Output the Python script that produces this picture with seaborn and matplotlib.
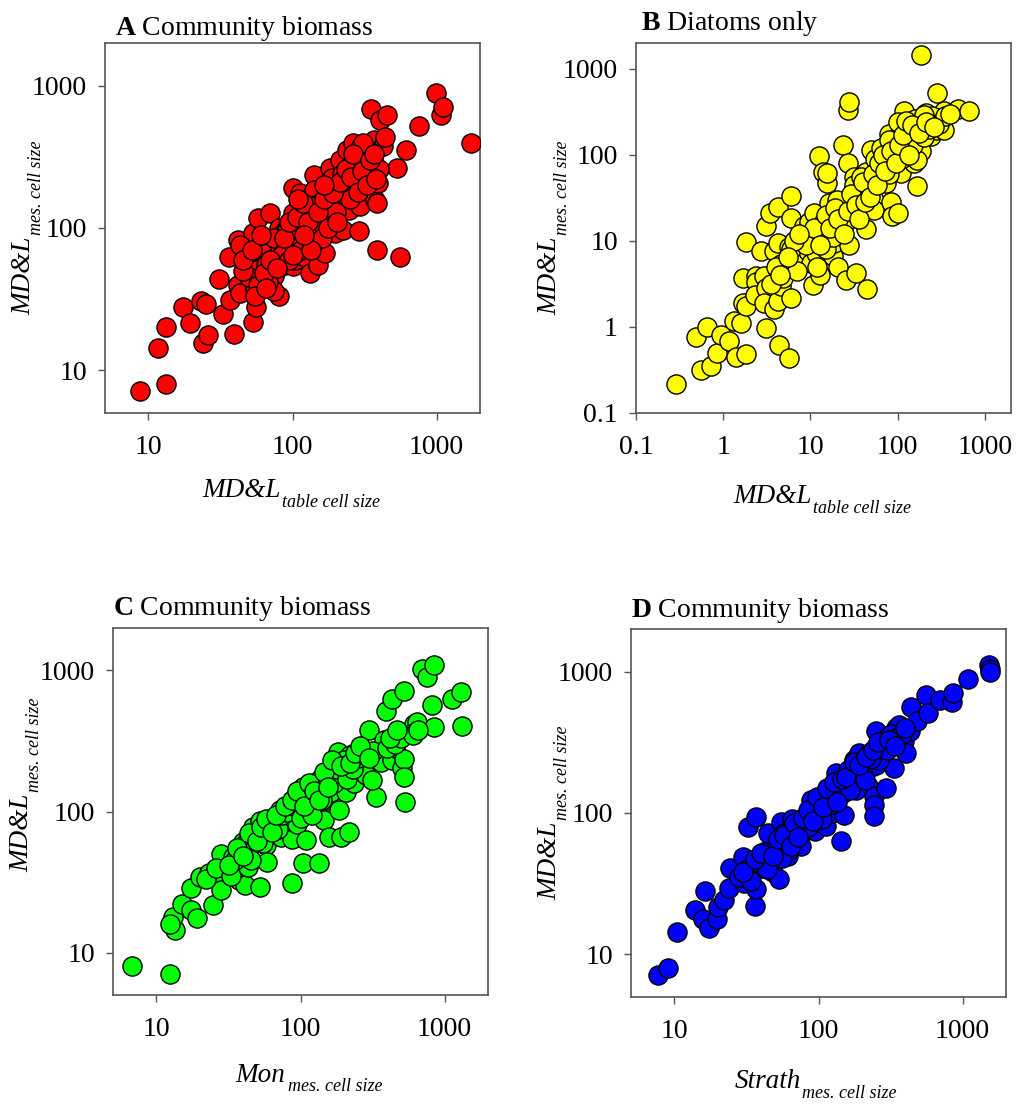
import matplotlib
matplotlib.use('Agg')
import matplotlib.pyplot as plt
import seaborn as sns

sns.set_theme(style='white')
plt.rcParams['font.family'] = ['Liberation Serif', 'DejaVu Serif']
plt.rcParams['mathtext.fontset'] = 'custom'
plt.rcParams['mathtext.rm'] = 'Liberation Serif'
plt.rcParams['mathtext.bf'] = 'Liberation Serif:bold'
plt.rcParams['text.color'] = 'black'
plt.rcParams['axes.labelcolor'] = 'black'

# A: community biomass, MD&L table vs MD&L measured
a_x = [8.7, 13.3, 11.6, 13.3, 17.3, 19.3, 23.3, 25, 24, 26, 31, 33, 36, 37, 39, 42, 42, 43, 48, 53,
       49, 53, 56, 55, 58, 56, 62, 70, 66, 66, 74, 80, 72, 78, 80, 86, 91, 82, 84, 101,
       101, 101, 101, 104, 113, 113, 118, 122, 132, 140, 140, 144, 151, 151, 155, 151, 168, 182, 187, 187,
       187, 192, 203, 198, 214, 225, 225, 238, 245, 245, 252, 265, 265, 270, 288, 295, 300, 329, 350, 366,
       366, 375, 386, 386, 404, 395, 427, 440, 450, 532, 561, 610, 754, 985, 1070, 1110, 1740,
       43, 49, 56, 82, 91, 98, 122, 144, 75,
       60, 65, 75, 90, 110, 120, 130, 140, 160, 170, 180, 200, 210, 220, 230, 260, 280, 300, 320, 340,
       50, 45, 58, 68, 85, 95, 105, 115, 125, 140, 160, 180, 200, 250, 275, 310, 360, 400,
       45, 52, 60, 63, 70, 78, 88, 95, 100, 108, 118, 128, 135, 150, 165, 175, 190, 205, 215, 235,
       255, 265, 285, 305, 330, 345, 370, 380, 55, 65, 110, 165, 120]
a_y = [7.1, 8.0, 14.4, 20, 28, 21.5, 30.5, 29, 15.6, 17.8, 44, 25, 63, 31, 18, 83, 40, 35, 74, 92,
       65, 22, 28, 37, 117, 54, 46, 127, 83, 60, 46, 33, 37, 67, 100, 92, 100, 63, 54, 191,
       127, 74, 54, 60, 176, 115, 83, 63, 48, 234, 186, 146, 121, 92, 100, 55, 67, 263, 223, 186,
       97, 142, 121, 92, 302, 150, 97, 355, 213, 134, 275, 395, 176, 220, 95, 142, 375, 318, 690, 418,
       244, 158, 70, 150, 577, 207, 375, 440, 625, 263, 63, 355, 518, 888, 625, 715, 396,
       76, 63, 51, 60, 97, 70, 76, 142, 36,
       70, 55, 85, 75, 95, 130, 100, 80, 110, 140, 120, 160, 190, 240, 170, 200, 250, 220, 280, 350,
       45, 50, 40, 42, 65, 60, 85, 70, 90, 105, 85, 145, 130, 160, 300, 395, 300, 260,
       60, 70, 90, 48, 60, 52, 85, 110, 65, 120, 150, 110, 70, 130, 160, 100, 175, 110, 210, 260,
       230, 330, 180, 250, 200, 300, 330, 220, 33, 38, 160, 200, 90]

# B: diatoms only
b_x = [0.29, 0.49, 0.56, 0.72, 0.66, 0.86, 0.94, 1.17, 1.4, 1.82, 1.34, 1.6, 1.67, 1.82, 1.67, 1.82, 2.37, 2.4, 2.3, 2.7,
       2.95, 3.1, 2.95, 3.1, 3.1, 3.4, 4.2, 3.85, 3.85, 4.2, 4.4, 4.6, 4.8, 4.6, 4.2, 5.7, 6.0, 6.0, 5.7, 6.2,
       6.0, 7.1, 8.1, 8.5, 9.3, 9.7, 9.3, 10.2, 10.6, 11.6, 11, 12.6, 13, 13.8, 13.8, 15.7, 15.7, 16.5, 18, 18,
       18.8, 21, 23.4, 23.4, 25.5, 25.5, 26.7, 26.7, 28, 28, 30.6, 32, 33.4, 33.4, 36.5, 38, 43.4, 43.4, 45, 49,
       54, 54, 67, 73, 76, 79, 83, 87, 100, 104, 109, 119, 128, 140, 153, 169, 185, 185, 193, 213,
       241, 274, 286, 313, 341, 341, 490, 660, 169, 128,
       8, 10, 12, 14, 16, 20, 22, 25, 30, 35, 40, 45, 50, 60, 70, 80, 90, 100, 110, 120,
       140, 150, 170, 200, 230, 250, 300, 350, 400, 5, 6, 7, 4, 3.5, 12, 15, 18, 20, 28, 32,
       38, 55, 65, 80, 100, 160, 200,
       9, 11, 13, 15, 17, 19, 21, 24, 27, 29, 33, 36, 40, 42, 48, 52, 58, 62, 68, 72,
       85, 95, 105, 115, 125, 135, 145, 175, 210, 260, 6.5, 7.5, 5.5, 4.5]
b_y = [0.22, 0.77, 0.32, 0.35, 1.0, 0.5, 0.81, 0.68, 0.45, 0.49, 1.16, 1.1, 1.9, 1.75, 3.7, 9.6, 3.9, 3.3, 2.37, 7.6,
       3.9, 2.83, 1.9, 0.97, 15, 21, 25, 7.55, 1.6, 2.0, 0.62, 3.0, 3.7, 5.4, 9.4, 0.44, 33, 18.4, 8.6, 5.8,
       2.2, 6.6, 5.5, 14.8, 12.4, 16.8, 7.6, 5.5, 3.1, 7.2, 21, 96, 4.0, 63, 14.3, 47, 62, 27.5, 6.6, 21,
       9.4, 5.0, 131, 14.3, 3.5, 27.5, 80, 334, 407, 8.9, 19.3, 56, 43, 4.2, 39, 22, 13.7, 64, 2.8, 115,
       30, 23, 56, 47, 104, 177, 28.5, 19.3, 21, 172, 61, 320, 115, 213, 80, 43, 1450, 110, 213, 306,
       165, 195, 520, 267, 326, 195, 345, 320, 88, 150,
       10, 12, 10, 16, 12, 15, 25, 20, 30, 28, 35, 50, 40, 70, 90, 60, 130, 150, 90, 200,
       180, 130, 250, 160, 200, 280, 230, 280, 300, 5, 8, 4.5, 5, 3.2, 5, 8, 11, 30, 18, 45,
       55, 90, 120, 150, 240, 260, 290,
       9, 14, 9, 20, 14, 24, 18, 12, 22, 35, 26, 18, 48, 28, 32, 60, 45, 80, 100, 65,
       110, 80, 130, 170, 250, 100, 220, 180, 240, 210, 10, 12, 6.5, 4]

# C: Mon vs MD&L measured
c_x = [6.8, 12.4, 13.4, 13, 12.4, 15, 17.5, 19, 17.5, 20, 23.2, 24.7, 25.9, 27.4, 28, 28, 34, 37.7, 40.9, 40,
       43, 43, 46.6, 52, 52, 57.7, 59, 62.5, 66, 71.5, 73, 84, 87, 87, 95, 97, 103.5, 104, 109, 113,
       118, 125, 128, 135, 135, 145, 153, 158, 162, 167, 176, 181, 186, 192, 207, 218, 218, 222, 235, 269,
       283, 300, 333, 350, 360, 380, 391, 434, 434, 456, 506, 524, 524, 524, 524, 531, 610, 640, 700, 758,
       843, 820, 843, 1130, 1290, 1325, 580, 315,
       30, 35, 38, 42, 48, 55, 60, 65, 70, 75, 80, 90, 100, 110, 120, 130, 140, 150, 160, 170,
       180, 200, 210, 230, 250, 280, 320, 400, 450, 500, 600, 650, 22, 26, 33, 45, 55, 100, 120, 140,
       32, 36, 40, 44, 50, 53, 58, 63, 68, 78, 88, 95, 105, 115, 125, 135, 145, 155, 165, 190,
       220, 240, 260, 300, 420, 470]
c_y = [8.0, 7.1, 14.5, 18, 16, 22, 20, 17.5, 28.5, 34.5, 36.5, 21.7, 38.5, 33.5, 27.7, 50, 47.5, 32.7, 30, 61,
       53, 40.5, 78, 29, 85, 58, 44, 70, 76, 102, 66, 92, 64, 31, 82, 123, 150, 43, 63, 97,
       130, 158, 100, 167, 43, 87, 120, 66, 138, 207, 186, 264, 102, 66, 138, 72, 186, 250, 158, 219,
       181, 376, 127, 257, 225, 320, 520, 630, 231, 280, 202, 720, 237, 356, 176, 117, 420, 431, 1030, 897,
       1085, 566, 397, 630, 702, 402, 356, 167,
       40, 45, 50, 60, 65, 70, 80, 85, 75, 95, 100, 110, 120, 130, 115, 150, 140, 170, 180, 160,
       200, 230, 170, 200, 240, 250, 270, 280, 300, 330, 350, 380, 33, 40, 35, 45, 60, 90, 95, 120,
       42, 55, 48, 70, 62, 78, 88, 72, 95, 110, 120, 140, 110, 160, 140, 120, 190, 150, 230, 210,
       220, 260, 290, 240, 330, 380]

# D: Strath vs MD&L measured
d_x = [7.75, 9, 10.5, 13.8, 15.7, 17.5, 16.4, 19.8, 20, 22.2, 24, 24.4, 30.6, 29.8, 32.3, 36.8, 36, 36.8, 40, 43,
       44.3, 48, 52, 53.5, 55, 58, 61, 66, 66, 70, 75.5, 79, 86, 89, 95, 102, 104, 112, 112, 118,
       125, 133, 139, 143, 147, 151, 160, 176, 183, 187, 192, 208, 219, 230, 242, 242, 244, 250, 250, 270,
       294, 301, 326, 333, 344, 363, 393, 403, 428, 438, 485, 557, 571, 697, 838, 860, 1085, 1530, 1545, 1545,
       263, 183,
       28, 32, 38, 42, 46, 50, 55, 60, 62, 70, 75, 80, 90, 95, 100, 110, 120, 130, 140, 150,
       160, 170, 180, 200, 220, 230, 280, 300, 320, 360, 380, 34, 44, 56, 66, 85, 105, 125, 165, 210,
       30, 36, 40, 48, 52, 58, 64, 68, 72, 78, 84, 92, 98, 108, 115, 128, 135, 145, 155, 175,
       190, 215, 240, 260, 310, 340, 400]
d_y = [7.1, 8, 14.4, 20.6, 17.9, 15.4, 28, 17.7, 21.8, 24.4, 29.5, 41, 32, 49, 80, 94, 22, 29, 41, 54,
       72, 38, 58, 34, 87, 72, 49.5, 65, 90, 61, 58, 76, 100, 124, 75, 100, 106, 81, 124, 134,
       100, 192, 150, 63, 138, 97, 172, 238, 172, 186, 266, 232, 154, 213, 131, 114, 95, 220, 377, 280,
       150, 338, 357, 208, 398, 420, 321, 265, 377, 566, 444, 684, 508, 631, 614, 703, 883, 1114, 1050, 1000,
       238, 146,
       35, 40, 45, 50, 45, 55, 60, 65, 55, 70, 80, 85, 95, 110, 120, 115, 140, 130, 160, 150,
       200, 180, 210, 200, 260, 240, 300, 280, 360, 350, 360, 33, 40, 48, 78, 80, 90, 115, 145, 170,
       38, 47, 52, 50, 66, 70, 58, 85, 68, 92, 105, 88, 130, 110, 150, 165, 120, 175, 180, 230,
       220, 250, 280, 320, 330, 300, 400]

ticks_main = [10, 100, 1000]
labels_main = ['10', '100', '1000']
ticks_b = [0.1, 1, 10, 100, 1000]
labels_b = ['0.1', '1', '10', '100', '1000']

W, H = 1016, 1113
fig = plt.figure(figsize=(W / 100, H / 100), dpi=100)


def px(x, y):
    return x / W, 1 - y / H


def axis_label(main, sub, main_xy, sub_xy, vertical):
    rot = 90 if vertical else 0
    fig.text(*px(*main_xy), main, fontsize=19.5, style='italic', rotation=rot,
             rotation_mode='anchor', ha='left', va='baseline')
    fig.text(*px(*sub_xy), sub, fontsize=13, style='italic', rotation=rot,
             rotation_mode='anchor', ha='left', va='baseline')


panels = [
    dict(x=a_x, y=a_y, color='#ff0000', box=(105, 43, 480, 413), lim=(5, 2000),
         ticks=ticks_main, labels=labels_main, title=r'$\mathbf{A}$ Community biomass', tpos=(115, 35),
         xl=('MD&L', 'table cell size', (202, 497), (282, 507)),
         yl=((30, 315), (41, 235))),
    dict(x=b_x, y=b_y, color='#ffff00', box=(636, 43, 1011, 413), lim=(0.1, 2000),
         ticks=ticks_b, labels=labels_b, title=r'$\mathbf{B}$ Diatoms only', tpos=(641, 30),
         xl=('MD&L', 'table cell size', (733, 503), (813, 513)),
         yl=((556, 315), (567, 235))),
    dict(x=c_x, y=c_y, color='#00ff00', box=(113, 628, 488, 995), lim=(5, 2000),
         ticks=ticks_main, labels=labels_main, title=r'$\mathbf{C}$ Community biomass', tpos=(113, 615),
         xl=('Mon', 'mes. cell size', (235, 1082), (288, 1091)),
         yl=((28, 872), (39, 792))),
    dict(x=d_x, y=d_y, color='#0000ff', box=(631, 629, 1006, 997), lim=(5, 2000),
         ticks=ticks_main, labels=labels_main, title=r'$\mathbf{D}$ Community biomass', tpos=(631, 617),
         xl=('Strath', 'mes. cell size', (735, 1088), (802, 1098)),
         yl=((556, 900), (567, 820))),
]

for p in panels:
    l, t, r, b = p['box']
    ax = fig.add_axes([l / W, 1 - b / H, (r - l) / W, (b - t) / H])
    sns.scatterplot(x=p['x'], y=p['y'], ax=ax, color=p['color'], edgecolor='black',
                    s=190, linewidth=1.0, legend=False, zorder=3)
    ax.set_xscale('log')
    ax.set_yscale('log')
    ax.set_xlim(p['lim'])
    ax.set_ylim(p['lim'])
    ax.set_xticks(p['ticks'], p['labels'])
    ax.set_yticks(p['ticks'], p['labels'])
    ax.minorticks_off()
    ax.tick_params(axis='both', direction='out', length=5, width=1, color='#555555',
                   labelsize=20, labelcolor='black', left=True, bottom=True)
    ax.tick_params(axis='x', pad=11)
    ax.tick_params(axis='y', pad=8)
    for sp in ax.spines.values():
        sp.set_color('#555555')
        sp.set_linewidth(1.2)
    ax.set_xlabel('')
    ax.set_ylabel('')
    ax.grid(False)
    fig.text(*px(*p['tpos']), p['title'], fontsize=20, ha='left', va='baseline')
    main, sub, mxy, sxy = p['xl']
    axis_label(main, sub, mxy, sxy, vertical=False)
    axis_label('MD&L', 'mes. cell size', p['yl'][0], p['yl'][1], vertical=True)

fig.savefig('out.png', dpi=100)
